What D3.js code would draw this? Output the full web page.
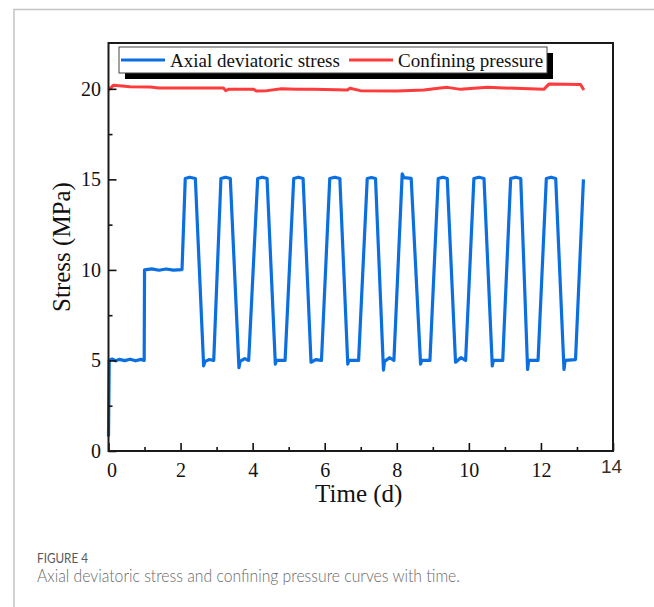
<!DOCTYPE html>
<html>
<head>
<meta charset="utf-8">
<script src="https://cdn.jsdelivr.net/npm/d3@7"></script>
<style>
  html, body { margin: 0; padding: 0; background: #fff; }
  svg { display: block; }
</style>
</head>
<body>
<svg id="chart" width="654" height="607"></svg>
<script>
// ---------------- data ----------------
const seriesNames = ["Axial deviatoric stress", "Confining pressure"];
const seriesColors = ["#0b6fe0", "#ff3b3b"];

// Axial deviatoric stress: time (d) and stress (MPa)
const axialTime = [0, 0.02, 0.1, 0.2, 0.3, 0.45, 0.6, 0.75, 0.9, 0.99,
  1.0, 1.2, 1.4, 1.6, 1.8, 2.04,
  2.13, 2.25, 2.41, 2.64, 2.68, 2.8, 2.92,
  3.12, 3.25, 3.38, 3.62, 3.65, 3.78, 3.89,
  4.14, 4.27, 4.40, 4.63, 4.66, 4.9,
  5.14, 5.27, 5.40, 5.62, 5.75, 5.91,
  6.14, 6.28, 6.42, 6.64, 6.67, 6.94,
  7.18, 7.3, 7.41, 7.63, 7.66, 7.8, 7.92,
  8.15, 8.2, 8.40, 8.66, 8.69, 8.92,
  9.15, 9.28, 9.40, 9.63, 9.78, 9.91,
  10.14, 10.28, 10.42, 10.65, 10.68, 10.94,
  11.16, 11.3, 11.44, 11.63, 11.66, 11.92,
  12.15, 12.28, 12.41, 12.64, 12.67, 12.96,
  13.18];
const axialStress = [0.8, 5.0, 5.08, 4.98, 5.06, 4.99, 5.07, 4.98, 5.06, 5.0,
  10.0, 10.06, 9.98, 10.05, 9.99, 10.02,
  15.05, 15.12, 15.05, 4.7, 4.95, 5.05, 5.0,
  15.05, 15.12, 15.05, 4.6, 4.95, 5.1, 5.0,
  15.05, 15.12, 15.05, 4.8, 5.0, 5.0,
  15.05, 15.12, 15.05, 4.9, 5.05, 5.0,
  15.05, 15.12, 15.05, 4.8, 5.0, 5.0,
  15.05, 15.1, 15.05, 4.47, 4.95, 5.15, 5.0,
  15.3, 15.1, 15.05, 4.8, 5.0, 5.0,
  15.05, 15.12, 15.05, 4.9, 5.15, 5.0,
  15.05, 15.12, 15.05, 4.7, 5.0, 5.0,
  15.05, 15.12, 15.05, 4.5, 5.0, 5.0,
  15.05, 15.12, 15.05, 4.5, 5.0, 5.05,
  15.0];

// Confining pressure: time (d) and stress (MPa)
const confTime = [0, 0.14, 0.6, 1.16, 1.4, 1.9, 2.5, 3.19, 3.25, 3.33,
  4.03, 4.1, 4.40, 4.8, 5.2, 5.69, 6.63, 6.7, 6.99, 8.01, 8.75, 9.21, 9.40,
  9.77, 10.51, 12.08, 12.22, 13.1, 13.19];
const confStress = [19.93, 20.2, 20.12, 20.1, 20.05, 20.04, 20.05, 20.04, 19.9, 19.97,
  19.97, 19.88, 19.9, 20.0, 19.97, 19.97, 19.93, 20.03, 19.9, 19.88, 19.93, 20.05, 20.08,
  19.97, 20.08, 19.97, 20.26, 20.24, 19.93];

const xTicks = [0, 2, 4, 6, 8, 10, 12, 14];
const xMinorTicks = [1, 3, 5, 7, 9, 11, 13];
const yTicks = [0, 5, 10, 15, 20];
const yMinorTicks = [2.5, 7.5, 12.5, 17.5];
const xTitle = "Time (d)";
const yTitle = "Stress (MPa)";
const figLabel = "FIGURE 4";
const figCaption = "Axial deviatoric stress and confining pressure curves with time.";

// ---------------- layout ----------------
const svg = d3.select("#chart");
const plot = { left: 108.5, right: 613, top: 43, bottom: 451 };
const serif = "'Liberation Serif', 'Times New Roman', serif";

const x = d3.scaleLinear().domain([0, 14]).range([plot.left, plot.right]);
const y = d3.scaleLinear().domain([0, 22.53]).range([plot.bottom, plot.top]);

svg.append("rect").attr("width", 654).attr("height", 607).attr("fill", "#fff");

// page border lines
svg.append("path")
  .attr("d", "M14,607 L14,9.5 L654,9.5")
  .attr("fill", "none").attr("stroke", "#c4c4c4").attr("stroke-width", 1.5);

// lines
const line = d3.line().x(d => x(d[0])).y(d => y(d[1]));
const axialData = axialTime.map((t, i) => [t, axialStress[i]]);
const confData = confTime.map((t, i) => [t, confStress[i]]);

svg.append("path").datum(confData)
  .attr("d", line).attr("fill", "none")
  .attr("stroke", seriesColors[1]).attr("stroke-width", 3)
  .attr("stroke-linejoin", "round");
svg.append("path").datum(axialData)
  .attr("d", line).attr("fill", "none")
  .attr("stroke", seriesColors[0]).attr("stroke-width", 3.2)
  .attr("stroke-linejoin", "round");

// axes
const gx = svg.append("g").attr("transform", `translate(0,${plot.bottom})`)
  .call(d3.axisBottom(x).tickValues(xTicks).tickSizeInner(-8).tickSizeOuter(0).tickPadding(12).tickFormat(d3.format("d")));
const gxm = svg.append("g").attr("transform", `translate(0,${plot.bottom})`)
  .call(d3.axisBottom(x).tickValues(xMinorTicks).tickSizeInner(-4).tickSizeOuter(0).tickFormat(""));
const gy = svg.append("g").attr("transform", `translate(${plot.left},0)`)
  .call(d3.axisLeft(y).tickValues(yTicks).tickSizeInner(-8).tickSizeOuter(0).tickPadding(7.5).tickFormat(d3.format("d")));
const gym = svg.append("g").attr("transform", `translate(${plot.left},0)`)
  .call(d3.axisLeft(y).tickValues(yMinorTicks).tickSizeInner(-4).tickSizeOuter(0).tickFormat(""));

[gx, gxm, gy, gym].forEach(g => {
  g.select(".domain").remove();
  g.selectAll(".tick line").attr("stroke", "#111").attr("stroke-width", 1.6);
  g.selectAll(".tick text").attr("font-family", serif).attr("font-size", 20).attr("fill", "#111");
});
// the first x label sits slightly right of its tick in the reference
gx.selectAll(".tick text").filter(d => d === 0).attr("x", 3);
// last x label looks different in the reference (sans, slightly raised)
gx.selectAll(".tick text").filter(d => d === 14)
  .attr("font-family", "'Liberation Sans', Arial, sans-serif").attr("font-size", 19)
  .attr("fill", "#3a3028").attr("y", 9).attr("x", -2);

// frame
svg.append("rect")
  .attr("x", plot.left).attr("y", plot.top)
  .attr("width", plot.right - plot.left).attr("height", plot.bottom - plot.top)
  .attr("fill", "none").attr("stroke", "#1a1a1a").attr("stroke-width", 2);

// axis titles
svg.append("text")
  .attr("x", (plot.left + plot.right) / 2 - 2).attr("y", 502)
  .attr("text-anchor", "middle").attr("font-family", serif).attr("font-size", 25)
  .attr("fill", "#111").text(xTitle);
svg.append("text")
  .attr("transform", `translate(70,${(plot.top + plot.bottom) / 2}) rotate(-90)`)
  .attr("text-anchor", "middle").attr("font-family", serif).attr("font-size", 25)
  .attr("fill", "#111").text(yTitle);

// legend
const lg = svg.append("g");
lg.append("rect").attr("x", 125).attr("y", 53).attr("width", 428).attr("height", 26).attr("fill", "#000");
lg.append("rect").attr("x", 119).attr("y", 47).attr("width", 428).attr("height", 26)
  .attr("fill", "#fff").attr("stroke", "#444").attr("stroke-width", 1);
const legendItems = [
  { name: seriesNames[0], color: seriesColors[0], x0: 121, x1: 165, tx: 170 },
  { name: seriesNames[1], color: seriesColors[1], x0: 349, x1: 393, tx: 398 }
];
legendItems.forEach(it => {
  lg.append("line").attr("x1", it.x0).attr("x2", it.x1).attr("y1", 60).attr("y2", 60)
    .attr("stroke", it.color).attr("stroke-width", 3);
  lg.append("text").attr("x", it.tx).attr("y", 66.5)
    .attr("font-family", serif).attr("font-size", 19).attr("fill", "#111").text(it.name);
});

// caption
const sans = "Lato, 'Open Sans', sans-serif";
svg.append("text").attr("x", 37).attr("y", 562.5)
  .attr("font-family", sans).attr("font-size", 14).attr("fill", "#595959")
  .attr("textLength", 51).attr("lengthAdjust", "spacingAndGlyphs").text(figLabel);
svg.append("text").attr("x", 37).attr("y", 582)
  .attr("font-family", sans).attr("font-weight", 300).attr("font-size", 17.5).attr("fill", "#6a6a6a")
  .attr("textLength", 423).attr("lengthAdjust", "spacingAndGlyphs").text(figCaption);
</script>
</body>
</html>
